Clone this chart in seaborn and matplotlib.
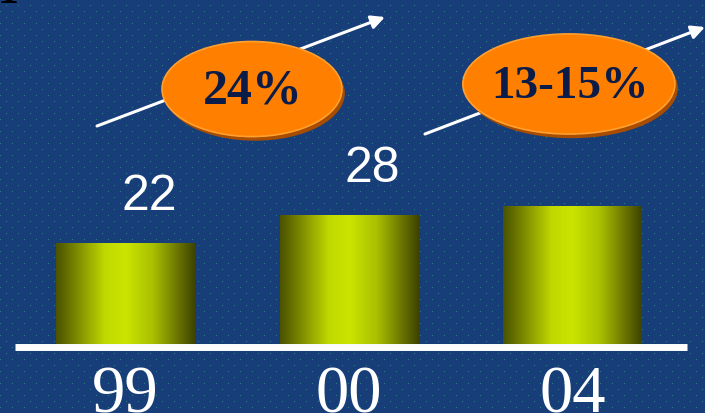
import numpy as np
import pandas as pd
import matplotlib
matplotlib.use("Agg")
import matplotlib.pyplot as plt
import seaborn as sns
from matplotlib.patches import Ellipse
from matplotlib.colors import LinearSegmentedColormap
from matplotlib import font_manager

# ---- data ----
years = ["99", "00", "04"]
values = [22, 28, 30]
value_labels = ["22", "28", ""]
growth_labels = ["24%", "13-15%"]

sns.set_style("white")
names = {f.name for f in font_manager.fontManager.ttflist}
narrow = "Liberation Sans Narrow" if "Liberation Sans Narrow" in names else "Liberation Sans"

W, H = 705, 414
fig = plt.figure(figsize=(W / 100, H / 100), dpi=100)

# background texture (dark blue with faint teal dots)
bg = fig.add_axes([0, 0, 1, 1])
img = np.zeros((H, W, 3))
img[:] = np.array([24, 62, 122]) / 255
yy, xx = np.mgrid[0:H, 0:W]
dots = ((xx % 12 == 0) & (yy % 12 == 0)) | (((xx + 6) % 12 == 0) & ((yy + 6) % 12 == 0))
img[dots] = np.array([38, 130, 120]) / 255
bg.imshow(img, aspect="auto", interpolation="nearest", extent=[0, 1, 0, 1])
bg.set_axis_off()

ax = fig.add_axes([0, 0, 1, 1])
ax.patch.set_alpha(0)
df = pd.DataFrame({"year": years, "value": values})
sns.barplot(data=df, x="year", y="value", order=years, width=0.62,
            color="#a8c000", ax=ax, zorder=3)

ax.set_xlim(-0.5615, 2.593)
ax.set_ylim(-15.02, 75.1)
ax.set_axis_off()

# cylinder shading on bars
cmap = LinearSegmentedColormap.from_list(
    "cyl", [(0.0, "#4a5200"), (0.15, "#7c8a00"), (0.35, "#c0d800"),
            (0.5, "#cce400"), (0.7, "#a8c000"), (0.88, "#6a7400"), (1.0, "#3e4400")])
grad = np.linspace(0, 1, 256).reshape(1, -1)
for p in ax.patches:
    x0, w, h = p.get_x(), p.get_width(), p.get_height()
    im = ax.imshow(grad, cmap=cmap, aspect="auto", extent=[x0, x0 + w, 0, h],
                   zorder=3, interpolation="bilinear")
    im.set_clip_path(p)
    p.set_facecolor("none")
    p.set_edgecolor("none")
ax.set_xlim(-0.5615, 2.593)
ax.set_ylim(-15.02, 75.1)

# value labels
for p, lbl in zip(ax.patches, value_labels):
    if lbl:
        ax.annotate(lbl, xy=(p.get_x() + p.get_width() / 2, p.get_height()),
                    xytext=(17, 34), textcoords="offset points",
                    ha="center", va="center", color="white",
                    fontsize=36, family=narrow, zorder=5)

# baseline
ax.plot([-0.494, 2.512], [-0.76, -0.76], color="white", lw=5.0,
        solid_capstyle="butt", zorder=4)

# category labels
for i, yr in enumerate(years):
    ax.text(i, -14.8, yr, ha="center", va="baseline", color="white",
            fontsize=48, family="Liberation Serif", zorder=5)

# growth arrows
arrows = [((-0.1275, 47.45), (1.161, 71.18)), ((1.340, 45.71), (2.593, 69.0))]
for start, tip in arrows:
    ax.annotate("", xy=tip, xytext=start,
                arrowprops=dict(arrowstyle="-|>", color="white", lw=2.2,
                                mutation_scale=20, shrinkA=0, shrinkB=0),
                zorder=6)

# growth ellipses
ell = [((0.566, 55.5), 0.805, 20.7), ((1.984, 56.6), 0.949, 21.8)]
for (c, w, h), lbl in zip(ell, growth_labels):
    sh = Ellipse((c[0] + 0.013, c[1] - 0.9), w, h, facecolor="#a84c00",
                 edgecolor="none", zorder=7)
    ax.add_patch(sh)
    e = Ellipse(c, w, h, facecolor="#ff8000", edgecolor="#ffa030", lw=1.2, zorder=8)
    ax.add_patch(e)
    ax.text(c[0] + 0.003, c[1] - 0.4, lbl, ha="center", va="center",
            color="#0c1c48", fontsize=36 if len(lbl) < 5 else 34,
            fontweight="bold", family="Liberation Serif", zorder=9)

# cut-off glyph in top-left corner
ax.text(0.012, 0.97, "1", transform=fig.transFigure, ha="center", va="bottom",
        color="black", fontsize=30, fontweight="bold", family="Liberation Serif",
        zorder=10)

fig.savefig("out.png", dpi=100)
